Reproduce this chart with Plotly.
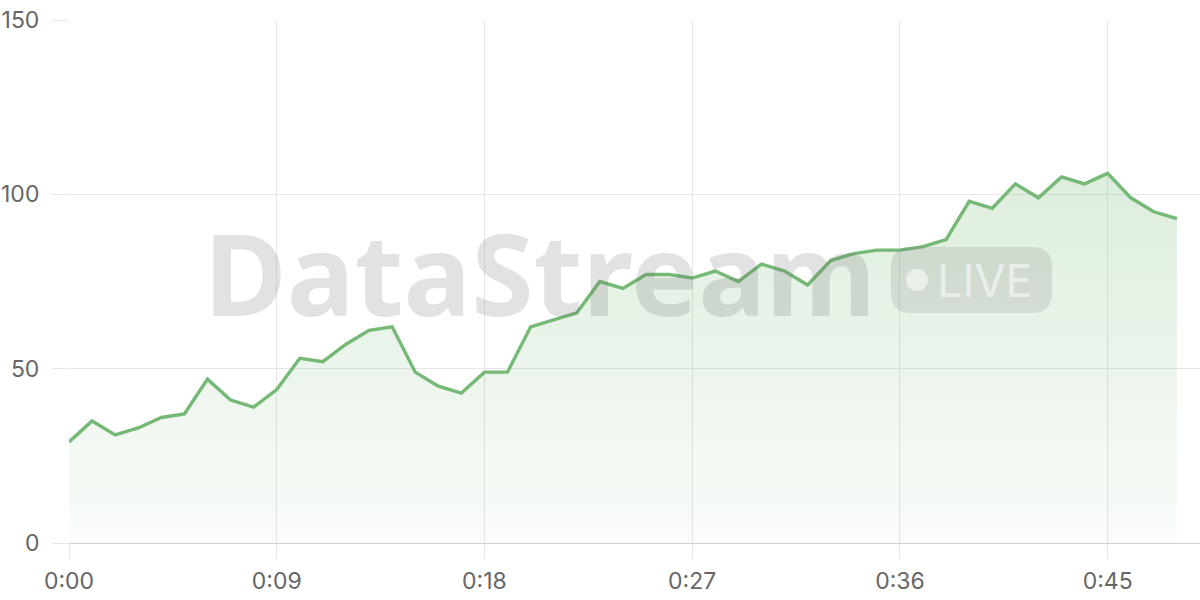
import plotly.graph_objects as go

# stream samples, one per minute
minutes = list(range(49))
values = [29, 35, 31, 33, 36, 37, 47, 41, 39, 44,
          53, 52, 57, 61, 62, 49, 45, 43, 49, 49,
          62, 64, 66, 75, 73, 77, 77, 76, 78, 75,
          80, 78, 74, 81, 83, 84, 84, 85, 87, 98,
          96, 103, 99, 105, 103, 106, 99, 95, 93]

tick_minutes = [0, 9, 18, 27, 36, 45]
tick_labels = ['0:00', '0:09', '0:18', '0:27', '0:36', '0:45']
y_ticks = [0, 50, 100, 150]

W, H = 1200, 600
L, R, T, B = 69, 0, 20, 57
PW, PH = W - L - R, H - T - B


def px(x):
    # screen pixel -> paper
    return (x - L) / PW


def py(y):
    return (H - B - y) / PH


def round_rect(x0, y0, x1, y1, r):
    a, b, c, d = px(x0), py(y1), px(x1), py(y0)
    rx, ry = r / PW, r / PH
    return (f"M {a + rx},{b} L {c - rx},{b} Q {c},{b} {c},{b + ry} "
            f"L {c},{d - ry} Q {c},{d} {c - rx},{d} L {a + rx},{d} "
            f"Q {a},{d} {a},{d - ry} L {a},{b + ry} Q {a},{b} {a + rx},{b} Z")


line_color = '#76b876'
grid = '#e6e6e6'

fig = go.Figure()
fig.add_trace(go.Scatter(
    x=minutes, y=values,
    mode='lines',
    line=dict(color=line_color, width=3.4),
    fill='tozeroy',
    fillgradient=dict(
        type='vertical',
        colorscale=[[0, 'rgba(118,184,118,0.04)'], [1, 'rgba(118,184,118,0.25)']],
    ),
    hoverinfo='skip',
))

wm = 'rgba(110,110,110,0.2)'
fig.add_annotation(
    text='<b>DataStream</b>', xref='paper', yref='paper',
    x=px(540), y=py(272), xanchor='center', yanchor='middle',
    showarrow=False,
    font=dict(family='Noto Sans', size=113, color=wm),
)
fig.add_shape(type='path', xref='paper', yref='paper',
              path=round_rect(891, 247, 1052, 313, 20),
              fillcolor='rgba(110,110,110,0.17)', line=dict(width=0))
fig.add_shape(type='circle', xref='paper', yref='paper',
              x0=px(906), x1=px(928), y0=py(291), y1=py(269),
              fillcolor='rgba(255,255,255,0.55)', line=dict(width=0))
fig.add_annotation(
    text='LIVE', xref='paper', yref='paper',
    x=px(985), y=py(280), xanchor='center', yanchor='middle',
    showarrow=False,
    font=dict(family='Inter', size=45, color='rgba(255,255,255,0.55)'),
)

fig.update_layout(
    width=W, height=H,
    margin=dict(l=L, r=R, t=T, b=B),
    paper_bgcolor='white', plot_bgcolor='white',
    showlegend=False,
    font=dict(family='Inter', size=23, color='#666666'),
    xaxis=dict(
        range=[0, 49], tickvals=tick_minutes, ticktext=tick_labels,
        showgrid=True, gridcolor=grid, gridwidth=1,
        ticks='outside', ticklen=15, tickcolor=grid, tickwidth=1,
        showline=True, linecolor='#cfcfcf', linewidth=1,
        zeroline=False, ticklabelstandoff=2, automargin=False,
    ),
    yaxis=dict(
        range=[0, 150], tickvals=y_ticks,
        showgrid=True, gridcolor=grid, gridwidth=1,
        ticks='outside', ticklen=16, tickcolor=grid, tickwidth=1,
        zeroline=False, showline=False, ticklabelstandoff=8, automargin=False,
    ),
)

# drop the default page margin so the figure sits at 0,0
fig.write_html("out.html", config={'displayModeBar': False},
               post_script="document.body.style.margin='0';")
